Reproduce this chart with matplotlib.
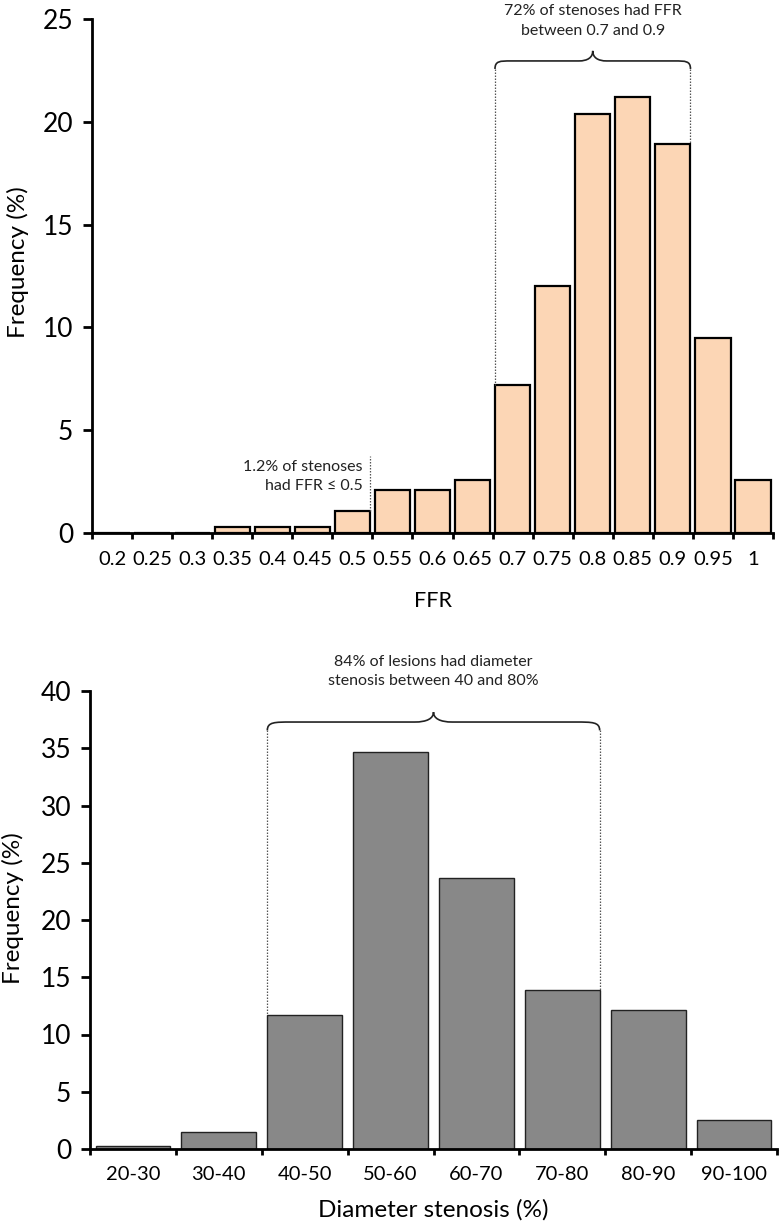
import matplotlib
matplotlib.use("Agg")
import matplotlib.pyplot as plt
from matplotlib.path import Path
from matplotlib.patches import PathPatch
import numpy as np

plt.rcParams['font.family'] = ['Lato', 'DejaVu Sans']

# ---- data ----
ffr_labels = ['0.2', '0.25', '0.3', '0.35', '0.4', '0.45', '0.5', '0.55', '0.6',
              '0.65', '0.7', '0.75', '0.8', '0.85', '0.9', '0.95', '1']
ffr_freq = [0, 0, 0, 0.28, 0.28, 0.28, 1.05, 2.1, 2.1, 2.6, 7.2, 12.0, 20.4,
            21.2, 18.9, 9.5, 2.6]
ds_labels = ['20-30', '30-40', '40-50', '50-60', '60-70', '70-80', '80-90', '90-100']
ds_freq = [0.3, 1.45, 11.7, 34.7, 23.7, 13.9, 12.1, 2.5]

ffr_note = "72% of stenoses had FFR\nbetween 0.7 and 0.9"
ffr_low_note = "1.2% of stenoses\nhad FFR \u2264 0.5"
ds_note = "84% of lesions had diameter\nstenosis between 40 and 80%"

W, H = 782, 1224
fig = plt.figure(figsize=(W / 100, H / 100), dpi=100)

def px_axes(l, r, t, b):
    return fig.add_axes([l / W, 1 - b / H, (r - l) / W, (b - t) / H])

ax1 = px_axes(92, 773, 19, 533)
ax2 = px_axes(90, 777, 691, 1149)


def style(ax, labels, ymax, ystep, tick_pad, xlab_size):
    n = len(labels)
    ax.set_xlim(-0.5, n - 0.5)
    ax.set_ylim(0, ymax)
    for s in ['top', 'right']:
        ax.spines[s].set_visible(False)
    for s in ['left', 'bottom']:
        ax.spines[s].set_linewidth(2.0)
    ax.set_yticks(np.arange(0, ymax + 0.1, ystep))
    ax.tick_params(axis='y', direction='out', length=6.5, width=2.0,
                   labelsize=19, pad=7)
    ax.set_xticks(np.arange(n + 1) - 0.5)
    ax.set_xticklabels([])
    ax.tick_params(axis='x', which='major', direction='out', length=4, width=2.0)
    ax.set_xticks(np.arange(n), minor=True)
    ax.set_xticklabels(labels, minor=True)
    ax.tick_params(axis='x', which='minor', length=0, labelsize=xlab_size,
                   pad=tick_pad)


def brace(ax, xl, xr, y_end, y_h, y_peak, rx, mx, lw=1.2):
    xm = (xl + xr) / 2
    verts = [
        (xl, y_end), (xl, y_h), (xl + rx * 0.3, y_h), (xl + rx, y_h),
        (xm - mx, y_h),
        (xm - mx * 0.35, y_h), (xm, y_h + (y_peak - y_h) * 0.35), (xm, y_peak),
        (xm, y_h + (y_peak - y_h) * 0.35), (xm + mx * 0.35, y_h), (xm + mx, y_h),
        (xr - rx, y_h),
        (xr - rx * 0.3, y_h), (xr, y_h), (xr, y_end),
    ]
    codes = [Path.MOVETO, Path.CURVE4, Path.CURVE4, Path.CURVE4,
             Path.LINETO,
             Path.CURVE4, Path.CURVE4, Path.CURVE4,
             Path.CURVE4, Path.CURVE4, Path.CURVE4,
             Path.LINETO,
             Path.CURVE4, Path.CURVE4, Path.CURVE4]
    ax.add_patch(PathPatch(Path(verts, codes), fill=False, lw=lw,
                           edgecolor='#222222', clip_on=False))

dot = dict(color='#555555', lw=0.9, linestyle=(0, (1.2, 1.2)))

# ---- top chart ----
w1 = 0.88
x1 = np.arange(len(ffr_labels))
ax1.bar(x1, ffr_freq, width=w1, color='#FCD6B5', edgecolor='black', linewidth=1.6)
style(ax1, ffr_labels, 25, 5, 13, 14.5)
ax1.set_ylabel('Frequency (%)', fontsize=17.5, va='center')
ax1.yaxis.set_label_coords(-0.109, 0.527)
ax1.set_xlabel('FFR', fontsize=15.5, va='center')
ax1.xaxis.set_label_coords(0.5, -0.132)

i0, i1 = ffr_labels.index('0.7'), ffr_labels.index('0.9')
xl, xr = i0 - w1 / 2, i1 + w1 / 2
brace(ax1, xl, xr, 22.57, 22.96, 23.45, 0.4, 0.35)
ax1.plot([xl, xl], [22.57, ffr_freq[i0]], **dot)
ax1.plot([xr, xr], [22.57, ffr_freq[i1]], **dot)
ax1.text((xl + xr) / 2, 24.9, ffr_note, ha='center', va='center', fontsize=11.5,
         color='#222222', linespacing=1.5)

i5 = ffr_labels.index('0.5')
xd = i5 + w1 / 2
ax1.plot([xd, xd], [ffr_freq[i5], 3.74], **dot)
ax1.text(i5 + 0.25, 2.74, ffr_low_note, ha='right', va='center', fontsize=11.5,
         color='#222222', linespacing=1.5)

# ---- bottom chart ----
w2 = 0.87
x2 = np.arange(len(ds_labels))
ax2.bar(x2, ds_freq, width=w2, color='#888888', edgecolor='#222222', linewidth=1.0)
style(ax2, ds_labels, 40, 5, 12, 14.5)
ax2.set_ylabel('Frequency (%)', fontsize=17.5, va='center')
ax2.yaxis.set_label_coords(-0.112, 0.527)
ax2.set_xlabel('Diameter stenosis (%)', fontsize=17.5, va='center')
ax2.xaxis.set_label_coords(0.5, -0.133)

j0, j1 = ds_labels.index('40-50'), ds_labels.index('70-80')
xl2, xr2 = j0 - w2 / 2, j1 + w2 / 2
brace(ax2, xl2, xr2, 36.56, 37.29, 38.16, 0.28, 0.22)
ax2.plot([xl2, xl2], [36.56, ds_freq[j0]], **dot)
ax2.plot([xr2, xr2], [36.56, ds_freq[j1]], **dot)
ax2.text((xl2 + xr2) / 2, 41.7, ds_note, ha='center', va='center', fontsize=11.5,
         color='#222222', linespacing=1.5)

fig.savefig('out.png', dpi=100, facecolor='white')
